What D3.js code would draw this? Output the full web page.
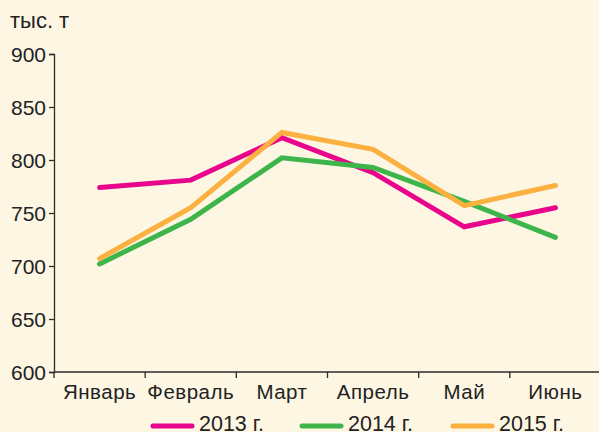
<!DOCTYPE html>
<html><head><meta charset="utf-8">
<script src="https://cdn.jsdelivr.net/npm/d3@7"></script>
<style>html,body{margin:0;padding:0;background:#fdf6e3;}svg{display:block;font-family:"Liberation Sans",Arial,sans-serif;}</style>
</head><body><svg id="c" width="599" height="432"></svg>
<script>
const months = ["Январь","Февраль","Март","Апрель","Май","Июнь"];
const series2013 = [774, 781, 821, 788, 737, 755];
const series2014 = [702, 744, 802, 793, 761, 727];
const series2015 = [707, 755, 826, 810, 757, 776];
const seriesNames = ["2013 г.","2014 г.","2015 г."];
const seriesColors = ["#e8058b","#3db54a","#fbb040"];
const yTicks = [600,650,700,750,800,850,900];
const unitLabel = "тыс. т";

const svg = d3.select("#c");
svg.append("rect").attr("width",599).attr("height",432).attr("fill","#fdf6e3");
const x = d3.scaleBand().domain(months).range([54, 601]);
const y = d3.scaleLinear().domain([600, 900]).range([372, 54]);

const ax = "#2b2b2b";
// y axis
const gy = svg.append("g").attr("transform","translate(54,0)")
  .call(d3.axisLeft(y).tickValues(yTicks).tickSize(5).tickPadding(3));
gy.select(".domain").attr("stroke",ax).attr("stroke-width",1.3);
gy.selectAll(".tick line").attr("stroke",ax).attr("stroke-width",1.3);
gy.selectAll(".tick text").attr("fill","#222").style("font-size","21px").attr("dy","0.36em");

// x axis
const gx = svg.append("g").attr("transform","translate(0,372)")
  .call(d3.axisBottom(x).tickSize(0));
gx.select(".domain").attr("stroke",ax).attr("stroke-width",1.3).attr("d","M54,0H599");
gx.selectAll(".tick text").attr("fill","#222").style("font-size","20.5px")
  .style("letter-spacing","0.5px").attr("y",27).attr("dy",0);
const bounds = months.map(m => x(m));
gx.selectAll(".bt").data(bounds).enter().append("line")
  .attr("x1",d=>d).attr("x2",d=>d).attr("y1",0).attr("y2",6)
  .attr("stroke",ax).attr("stroke-width",1.3);

svg.append("text").attr("x",10).attr("y",28).attr("fill","#222")
  .style("font-size","22px").text(unitLabel);

const all = [series2013, series2014, series2015];
const line = d3.line().x((d,i)=>x(months[i])+x.bandwidth()/2).y(d=>y(d));
all.forEach((s,k)=>{
  svg.append("path").attr("d",line(s)).attr("fill","none")
    .attr("stroke",seriesColors[k]).attr("stroke-width",5)
    .attr("stroke-linecap","round").attr("stroke-linejoin","miter");
});

// legend
const lx = [153, 302, 453];
seriesNames.forEach((n,k)=>{
  svg.append("line").attr("x1",lx[k]).attr("x2",lx[k]+39).attr("y1",426).attr("y2",426)
    .attr("stroke",seriesColors[k]).attr("stroke-width",5).attr("stroke-linecap","round");
  svg.append("text").attr("x",lx[k]+46).attr("y",431).attr("fill","#222")
    .style("font-size","21.5px").text(n);
});
</script></body></html>
